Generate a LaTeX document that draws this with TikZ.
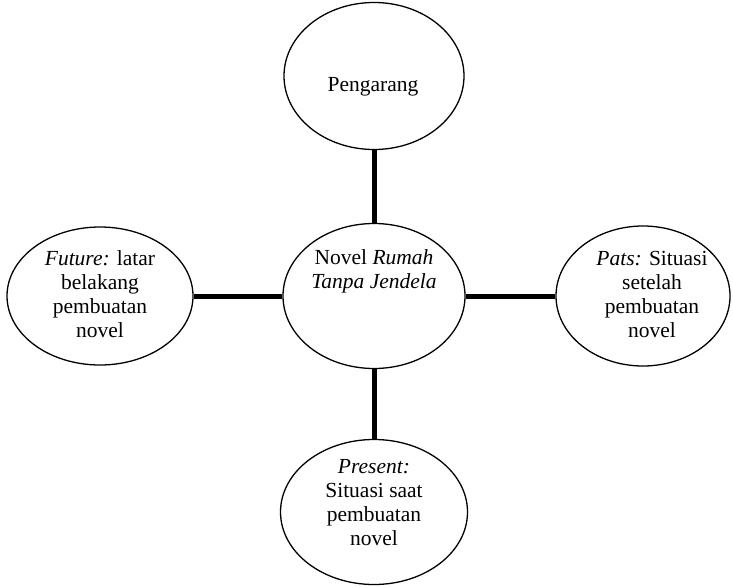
\documentclass[tikz,border=0pt]{standalone}
\usepackage{fontspec}
\setmainfont{Liberation Serif}
\usetikzlibrary{shapes.geometric}
\newcommand{\drawthick}{\draw[line width=5pt]}
\tikzset{
  bubble/.style={draw, ellipse, line width=1.3pt, inner sep=0pt},
  bubbletext/.style={align=center, inner sep=0pt, font=\fontsize{21.5}{24}\selectfont}
}
\begin{document}
\begin{tikzpicture}[x=1pt,y=-1pt]
\useasboundingbox (0,0) rectangle (733,586);
% ellipses
\node[bubble, minimum width=180pt, minimum height=147pt] (pengarang) at (374,76) {};
\node[bubble, minimum width=182pt, minimum height=145pt] (novel) at (374,296) {};
\node[bubble, minimum width=186pt, minimum height=138pt] (future) at (100,296) {};
\node[bubble, minimum width=174pt, minimum height=140pt] (pats) at (643,296) {};
\node[bubble, minimum width=187pt, minimum height=145pt] (present) at (374,512) {};
% texts
\node[bubbletext] (pengarangtext) at (373,87) {Pengarang};
\node[bubbletext] (noveltext) at (374,271) {Novel \textit{Rumah}\\\textit{Tanpa Jendela}};
\node[bubbletext] (futuretext) at (100,294) {\textit{Future:} latar\\belakang\\pembuatan\\novel};
\node[bubbletext] (patstext) at (652,294) {\textit{Pats:} Situasi\\setelah\\pembuatan\\novel};
\node[bubbletext] (presenttext) at (374,503) {\textit{Present:}\\Situasi saat\\pembuatan\\novel};
% connectors
\drawthick (pengarang.south) -- (novel.north);
\drawthick (future.east) -- (novel.west);
\drawthick (novel.east) -- (pats.west);
\drawthick (novel.south) -- (present.north);
\end{tikzpicture}
\end{document}
